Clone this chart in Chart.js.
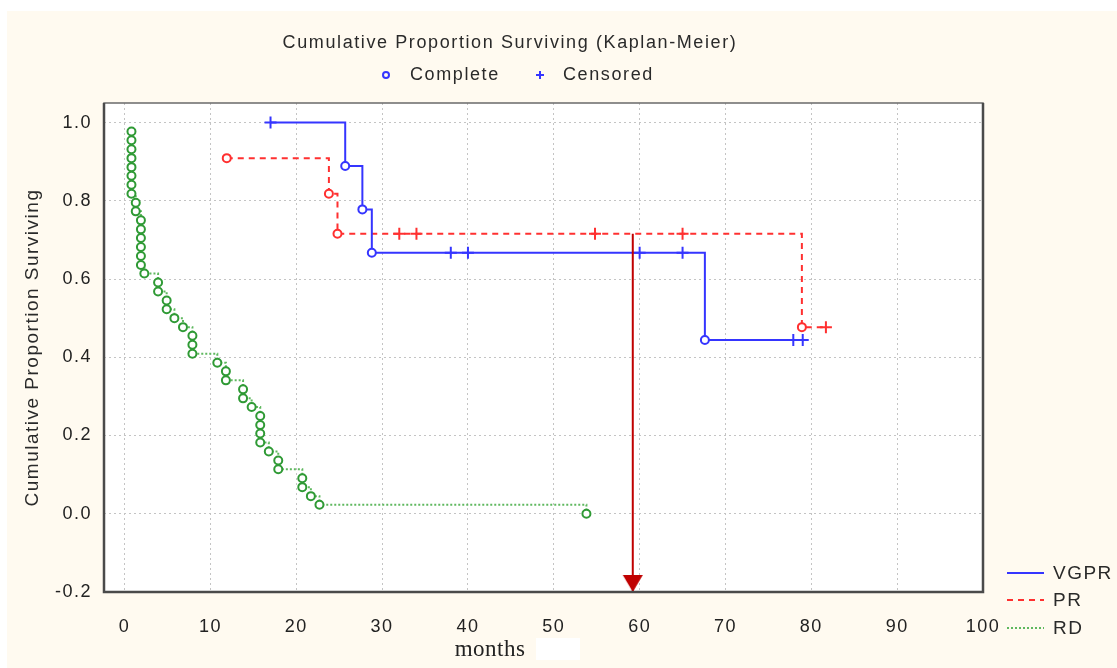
<!DOCTYPE html>
<html>
<head>
<meta charset="utf-8">
<script src="https://cdn.jsdelivr.net/npm/chart.js@4.4.0/dist/chart.umd.min.js"></script>
<style>
html, body { margin: 0; padding: 0; background: #fff; }
</style>
</head>
<body>
<canvas id="km" width="1117" height="668"></canvas>
<script>
// tick values
const xTicks = [0, 10, 20, 30, 40, 50, 60, 70, 80, 90, 100];
const yTicks = [-0.2, 0, 0.2, 0.4, 0.6, 0.8, 1.0];

// VGPR group (1 = censored, 0 = complete)
const vgprMonths = [17, 25.7, 27.7, 28.8, 38, 40, 60, 65, 67.6, 77.9, 79];
const vgprSurv = [1.0, 0.889, 0.778, 0.667, 0.667, 0.667, 0.667, 0.667, 0.444, 0.444, 0.444];
const vgprCensored = [1, 0, 0, 0, 1, 1, 1, 1, 0, 1, 1];

// PR group
const prMonths = [11.9, 23.8, 24.8, 32, 34, 54.8, 65, 78.9, 81.7];
const prSurv = [0.909, 0.818, 0.716, 0.716, 0.716, 0.716, 0.716, 0.477, 0.477];
const prCensored = [0, 0, 0, 1, 1, 1, 1, 0, 1];

// RD group (all complete)
const rdMonths = [0.8, 0.8, 0.8, 0.8, 0.8, 0.8, 0.8, 0.8, 1.3, 1.3,
                  1.9, 1.9, 1.9, 1.9, 1.9, 1.9, 2.3, 3.9, 3.9, 4.9,
                  4.9, 5.8, 6.8, 7.9, 7.9, 7.9, 10.8, 11.8, 11.8, 13.8,
                  13.8, 14.8, 15.8, 15.8, 15.8, 15.8, 16.8, 17.9, 17.9, 20.7,
                  20.7, 21.7, 22.7, 53.8];
const rdSurv = [0.977, 0.955, 0.932, 0.909, 0.886, 0.864, 0.841, 0.818, 0.795, 0.773,
                0.750, 0.727, 0.705, 0.682, 0.659, 0.636, 0.614, 0.591, 0.568, 0.545,
                0.523, 0.500, 0.477, 0.455, 0.432, 0.409, 0.386, 0.364, 0.341, 0.318,
                0.295, 0.273, 0.250, 0.227, 0.205, 0.182, 0.159, 0.136, 0.114, 0.091,
                0.068, 0.045, 0.023, 0.0];

// red marker arrow at 60 months
const arrowMonths = [59.2, 59.2];
const arrowSurv = [0.716, -0.2];

const seriesNames = ['VGPR', 'PR', 'RD'];
const blue = '#3535ff', red = '#ff3030', green = '#2f9a35', greenLine = '#5fb85f', darkRed = '#c00000';
const baseFont = '"Liberation Sans", Arial, sans-serif';

function pts(xs, ys) {
    return xs.map((x, i) => ({x: x, y: ys[i]}));
}

// arrow head whose tip sits at the point centre
function arrowHead() {
    const c = document.createElement('canvas');
    c.width = 22; c.height = 36;
    const g = c.getContext('2d');
    g.fillStyle = darkRed;
    g.beginPath();
    g.moveTo(1, 1); g.lineTo(21, 1); g.lineTo(11, 18);
    g.closePath(); g.fill();
    return c;
}

const decor = {
    id: 'decor',
    beforeDraw(chart) {
        const ctx = chart.ctx, a = chart.chartArea;
        ctx.save();
        ctx.fillStyle = '#ffffff';
        ctx.fillRect(0, 0, chart.width, chart.height);
        ctx.fillStyle = '#fffaf0';
        ctx.fillRect(7, 11, chart.width - 7, chart.height - 11);
        ctx.fillStyle = '#ffffff';
        ctx.fillRect(a.left, a.top, a.right - a.left, a.bottom - a.top);
        ctx.restore();
        // the original's lettering is widely spaced
        ctx.letterSpacing = '1.5px';
    },
    afterDraw(chart) {
        const ctx = chart.ctx, a = chart.chartArea;
        ctx.save();
        // frame
        ctx.strokeStyle = '#6a6a6a';
        ctx.lineWidth = 1.5;
        ctx.strokeRect(a.left, a.top, a.right - a.left, a.bottom - a.top);
        ctx.strokeStyle = '#4a4a4a';
        ctx.lineWidth = 2.5;
        ctx.beginPath();
        ctx.moveTo(a.left, a.top); ctx.lineTo(a.left, a.bottom); ctx.lineTo(a.right, a.bottom); ctx.lineTo(a.right, a.top);
        ctx.stroke();

        // title and marker legend
        ctx.letterSpacing = '1.6px';
        ctx.fillStyle = '#2a2a2a';
        ctx.textBaseline = 'middle';
        ctx.textAlign = 'center';
        ctx.font = '18px ' + baseFont;
        ctx.fillText('Cumulative Proportion Surviving (Kaplan-Meier)', 510, 43);
        ctx.textAlign = 'left';
        ctx.fillText('Complete', 410, 75);
        ctx.fillText('Censored', 563, 75);
        ctx.strokeStyle = blue;
        ctx.lineWidth = 2;
        ctx.beginPath(); ctx.arc(386, 75, 3, 0, Math.PI * 2); ctx.stroke();
        ctx.beginPath(); ctx.moveTo(536, 75); ctx.lineTo(544, 75); ctx.moveTo(540, 71); ctx.lineTo(540, 79); ctx.stroke();

        // series legend
        const styles = [[blue, []], [red, [6, 5]], [greenLine, [2, 2]]];
        const ly = [573, 600, 628];
        ctx.font = '19px ' + baseFont;
        ctx.letterSpacing = '1.5px';
        seriesNames.forEach((n, i) => {
            ctx.strokeStyle = styles[i][0];
            ctx.setLineDash(styles[i][1]);
            ctx.lineWidth = 2;
            ctx.beginPath(); ctx.moveTo(1007, ly[i]); ctx.lineTo(1044, ly[i]); ctx.stroke();
            ctx.setLineDash([]);
            ctx.fillStyle = '#2a2a2a';
            ctx.fillText(n, 1053, ly[i] + 1);
        });

        // x axis title
        ctx.fillStyle = '#ffffff';
        ctx.fillRect(536, 638, 44, 22);
        ctx.fillStyle = '#222';
        ctx.textAlign = 'center';
        ctx.letterSpacing = '0.5px';
        ctx.font = '23px "Liberation Serif", "Times New Roman", serif';
        ctx.fillText('months', 490, 650);
        ctx.restore();
    }
};

const ctx = document.getElementById('km').getContext('2d');
new Chart(ctx, {
    type: 'line',
    data: {
        datasets: [
            {
                label: 'arrow',
                data: pts(arrowMonths, arrowSurv),
                borderColor: darkRed,
                borderWidth: 2,
                pointStyle: [false, arrowHead()],
                pointRadius: [0, 10]
            },
            {
                label: seriesNames[0],
                data: pts(vgprMonths, vgprSurv),
                stepped: 'before',
                borderColor: blue,
                borderWidth: 2,
                pointStyle: vgprCensored.map(c => c ? 'cross' : 'circle'),
                pointRadius: vgprCensored.map(c => c ? 6 : 4),
                pointBorderColor: blue,
                pointBackgroundColor: '#fff',
                pointBorderWidth: 2
            },
            {
                label: seriesNames[1],
                data: pts(prMonths, prSurv),
                stepped: 'before',
                borderColor: red,
                borderWidth: 2,
                borderDash: [6, 5],
                pointStyle: prCensored.map(c => c ? 'cross' : 'circle'),
                pointRadius: prCensored.map(c => c ? 6 : 4),
                pointBorderColor: red,
                pointBackgroundColor: '#fff',
                pointBorderWidth: 2
            },
            {
                label: seriesNames[2],
                data: pts(rdMonths, rdSurv),
                stepped: 'before',
                borderColor: greenLine,
                borderWidth: 2,
                borderDash: [2, 2],
                pointStyle: 'circle',
                pointRadius: 4,
                pointBorderColor: green,
                pointBackgroundColor: '#fff',
                pointBorderWidth: 2
            }
        ]
    },
    options: {
        responsive: false,
        animation: false,
        devicePixelRatio: 1,
        layout: { padding: { left: 0, top: 103, right: 134, bottom: 0 } },
        plugins: {
            legend: { display: false },
            title: { display: false },
            tooltip: { enabled: false }
        },
        scales: {
            x: {
                type: 'linear',
                min: -2.4,
                max: 100,
                afterBuildTicks: s => { s.ticks = xTicks.map(v => ({value: v})); },
                afterFit: s => { s.height = 76; },
                grid: { color: '#c4c4c4', lineWidth: 1, drawTicks: false },
                border: { display: false, dash: [2, 3] },
                ticks: { padding: 24, autoSkip: false, maxRotation: 0, color: '#222', font: { family: baseFont, size: 18 } }
            },
            y: {
                type: 'linear',
                min: -0.2,
                max: 1.05,
                afterBuildTicks: s => { s.ticks = yTicks.map(v => ({value: v})); },
                afterFit: s => { s.width = 104; },
                grid: { color: '#c4c4c4', lineWidth: 1, drawTicks: false },
                border: { display: false, dash: [2, 3] },
                ticks: { padding: 12, color: '#222', font: { family: baseFont, size: 18 }, callback: v => v.toFixed(1) },
                title: { display: true, text: 'Cumulative Proportion Surviving', color: '#2a2a2a', font: { family: baseFont, size: 19 }, padding: { top: 21, bottom: 0 } }
            }
        }
    },
    plugins: [decor]
});
</script>
</body>
</html>
